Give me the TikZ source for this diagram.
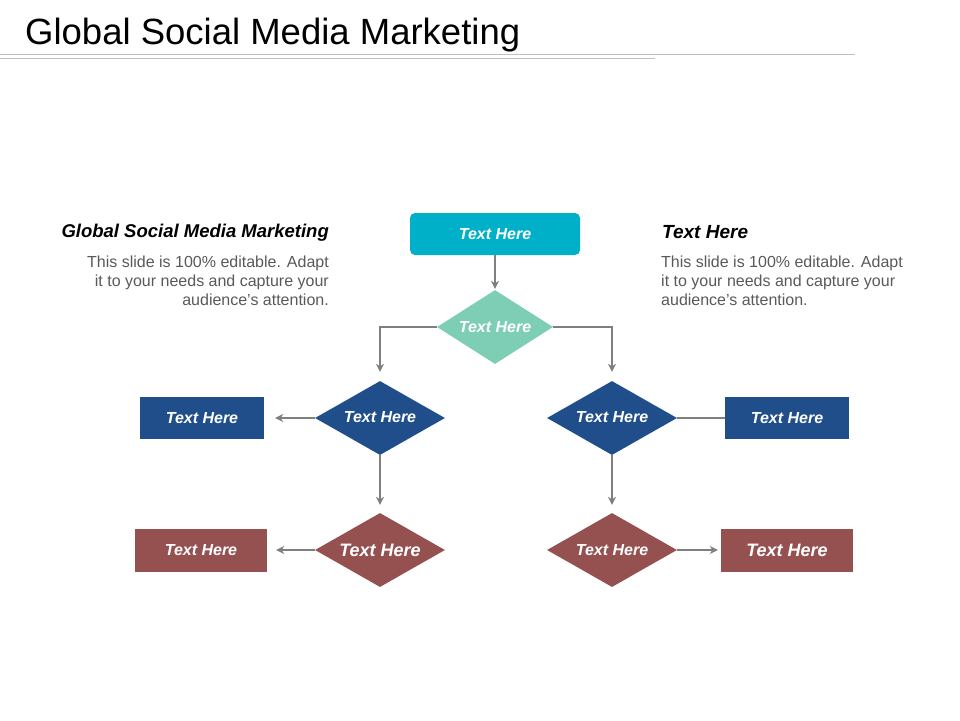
\documentclass[tikz,border=0pt]{standalone}
\usepackage{fontspec}
\setmainfont{Liberation Sans}[Ligatures=ResetAll]
\usetikzlibrary{shapes.geometric,arrows.meta}
\definecolor{teal1}{HTML}{00B0C8}
\definecolor{mint}{HTML}{7ECEB5}
\definecolor{navy}{HTML}{1F4E8A}
\definecolor{brick}{HTML}{955050}
\definecolor{conn}{HTML}{7F7F7F}
\definecolor{rule}{HTML}{BFBFBF}
\definecolor{body}{HTML}{595959}
\tikzset{
  boxshape/.style={rectangle,draw=none,inner sep=0pt,text=white,font=\bfseries\itshape\fontsize{16}{19}\selectfont},
  dia/.style={diamond,draw=none,inner sep=0pt,shape aspect=1.76,minimum width=130pt,minimum height=74pt,text=white,font=\bfseries\itshape\fontsize{16}{19}\selectfont},
  arr/.style={draw=conn,line width=1.1pt,-{Stealth[length=8pt,width=8pt,inset=2.5pt]}},
  ln/.style={draw=conn,line width=1.1pt},
}
\begin{document}
\begin{tikzpicture}[x=1pt,y=-1pt]
\useasboundingbox (0,0) rectangle (960,720);
% title
\node[anchor=base west,inner sep=0pt,font=\fontsize{36.5}{42}\selectfont] (title) at (25,44) {Global Social Media Marketing};
\draw[rule,line width=1pt] (0,54) -- (855,54);
\draw[rule,line width=1pt] (0,58) -- (655,58);

% top box
\node[boxshape,fill=teal1,rounded corners=5pt,minimum width=170pt,minimum height=42pt] (top) at (495,234) {Text Here};
% green diamond
\node[dia,fill=mint,minimum width=116pt,minimum height=74pt] (g) at (495,327) {Text Here};
% blue diamonds
\node[dia,fill=navy] (bl) at (380,418) {\raisebox{2pt}{Text Here}};
\node[dia,fill=navy] (br) at (612,418) {\raisebox{2pt}{Text Here}};
% red diamonds
\node[dia,fill=brick,font=\bfseries\itshape\fontsize{18}{21}\selectfont] (rl) at (380,550) {Text Here};
\node[dia,fill=brick] (rr) at (612,550) {Text Here};
% blue boxes
\node[boxshape,fill=navy,minimum width=124pt,minimum height=42pt] (bbl) at (202,418) {Text Here};
\node[boxshape,fill=navy,minimum width=124pt,minimum height=42pt] (bbr) at (787,418) {Text Here};
% red boxes
\node[boxshape,fill=brick,minimum width=132pt,minimum height=43pt] (rbl) at (201,550) {Text Here};
\node[boxshape,fill=brick,minimum width=132pt,minimum height=43pt,font=\bfseries\itshape\fontsize{18}{21}\selectfont] (rbr) at (787,550) {Text Here};

% connectors
\draw[arr] (top.south) -- ([yshift=1pt]g.north);
\draw[arr] (g.west) -| ([yshift=9pt]bl.north);
\draw[arr] (g.east) -| ([yshift=9pt]br.north);
\draw[arr] (bl.west) -- ([xshift=11pt]bbl.east);
\draw[ln] (br.east) -- (bbr.west);
\draw[arr] (bl.south) -- ([yshift=8pt]rl.north);
\draw[arr] (br.south) -- ([yshift=8pt]rr.north);
\draw[arr] (rl.west) -- ([xshift=9pt]rbl.east);
\draw[arr] (rr.east) -- ([xshift=-3pt]rbr.west);

% left text block
\node[anchor=base east,inner sep=0pt,font=\bfseries\itshape\fontsize{18.5}{21}\selectfont] (lh) at (329,237) {Global Social Media Marketing};
\node[anchor=north east,inner sep=0pt,align=right,text=body,font=\fontsize{16}{19}\selectfont] (lb) at (329,256) {This slide is 100\% editable. Adapt\\it to your needs and capture your\\audience's attention.};
% right text block
\node[anchor=base west,inner sep=0pt,font=\bfseries\itshape\fontsize{19}{22}\selectfont] (rh) at (662,238) {Text Here};
\node[anchor=north west,inner sep=0pt,align=left,text=body,font=\fontsize{16}{19}\selectfont] (rb) at (661,256) {This slide is 100\% editable. Adapt\\it to your needs and capture your\\audience's attention.};
\end{tikzpicture}
\end{document}
